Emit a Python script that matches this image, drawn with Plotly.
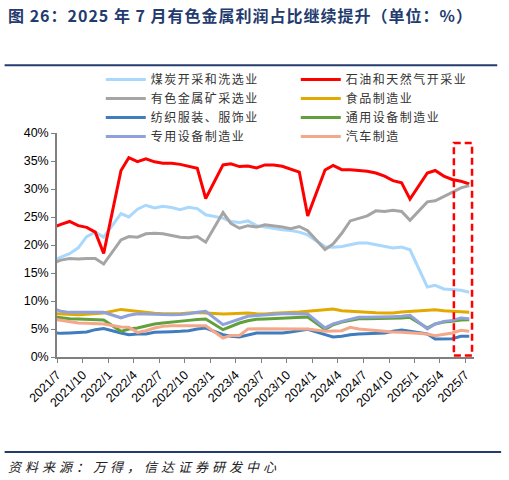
import pandas as pd
import plotly.graph_objects as go

# 月度数据（1月不单独公布，缺失）；首个点 2021/6 落在坐标轴左侧之外
months = [f"{p.year}/{p.month}" for p in pd.period_range("2021-06", "2025-07", freq="M") if p.month != 1]

coal = [17.1, 17.85, 18.45, 19.5, 21.5, 22.3, 21.4,
        25.6, 25.0, 26.4, 27.1, 26.6, 26.9, 26.7, 26.3, 26.75, 26.5, 25.4,
        24.8, 24.2, 24.0, 24.3, 23.45, 23.2, 23.0, 22.7, 22.6, 22.3, 21.8,
        19.7, 19.6, 19.75, 20.05, 20.35, 20.35, 20.05, 19.65, 19.45, 19.65, 19.15,
        12.5, 12.8, 12.15, 12.0, 11.9, 11.55]
oil = [23.05, 23.7, 24.2, 23.45, 23.15, 22.3, 18.5,
       33.3, 35.6, 34.9, 35.4, 34.85, 34.6, 34.6, 34.4, 34.1, 33.7, 28.3,
       34.3, 34.5, 34.0, 34.1, 33.75, 34.3, 34.3, 34.05, 33.6, 33.0, 25.2,
       33.4, 34.2, 33.45, 33.45, 33.3, 33.15, 32.85, 32.3, 31.5, 31.1, 28.2,
       32.85, 33.3, 32.3, 31.7, 31.4, 30.9]
metal = [16.75, 17.3, 17.6, 17.5, 17.6, 17.6, 16.6,
         20.9, 21.5, 21.4, 22.0, 22.1, 22.0, 21.7, 21.4, 21.3, 21.5, 20.5,
         25.8, 23.85, 23.0, 23.45, 23.2, 23.6, 23.45, 23.2, 22.9, 23.3, 22.55,
         19.2, 20.2, 22.1, 24.3, 24.8, 25.2, 26.1, 26.0, 26.2, 26.0, 24.4,
         27.7, 27.9, 28.6, 29.4, 30.2, 30.6]
food = [7.75, 7.65, 7.55, 7.55, 7.65, 7.75, 7.85,
        8.5, 8.33, 8.15, 7.97, 7.8, 7.73, 7.67, 7.73, 7.85, 7.95, 7.85,
        7.67, 7.73, 7.85, 7.85, 7.73, 7.67, 7.8, 7.85, 7.9, 8.03, 8.15,
        8.4, 8.57, 8.27, 8.15, 8.03, 7.97, 7.9, 7.85, 7.85, 8.03, 8.15,
        8.4, 8.45, 8.27, 8.15, 8.03, 7.97]
textile = [4.35, 4.22, 4.28, 4.34, 4.46, 4.88, 5.1,
           4.28, 3.98, 4.1, 4.1, 4.4, 4.52, 4.52, 4.58, 4.7, 5.0, 5.17,
           3.98, 3.69, 3.57, 3.86, 4.28, 4.28, 4.28, 4.28, 4.46, 4.7, 4.93,
           4.0, 3.57, 3.69, 3.98, 4.1, 4.16, 4.16, 4.28, 4.58, 4.82, 4.58,
           4.1, 3.2, 3.2, 3.27, 3.69, 3.69]
general = [7.2, 6.96, 6.84, 6.78, 6.73, 6.73, 6.6,
           4.58, 5.0, 5.18, 5.59, 5.89, 6.07, 6.19, 6.36, 6.54, 6.7, 6.78,
           4.88, 5.47, 6.07, 6.48, 6.72, 6.78, 6.84, 6.9, 6.96, 7.08, 7.14,
           4.93, 5.77, 6.24, 6.54, 6.84, 6.84, 6.84, 6.84, 6.9, 6.96, 7.08,
           5.17, 5.89, 6.24, 6.36, 6.6, 6.66]
special = [8.7, 8.15, 7.97, 8.0, 7.97, 8.0, 8.0,
           7.0, 7.45, 7.73, 7.67, 7.55, 7.55, 7.55, 7.6, 7.73, 8.0, 8.15,
           5.77, 6.24, 6.78, 7.26, 7.43, 7.55, 7.67, 7.73, 7.73, 7.73, 7.67,
           5.2, 5.89, 6.36, 6.78, 7.08, 7.08, 7.08, 7.14, 7.2, 7.26, 7.43,
           5.0, 5.89, 6.36, 6.54, 6.96, 6.84]
auto = [6.8, 6.54, 6.24, 6.07, 6.01, 6.01, 5.89,
        5.35, 5.3, 4.4, 4.7, 5.18, 5.47, 5.59, 5.59, 5.65, 5.7, 5.59,
        3.39, 3.86, 3.86, 5.0, 5.05, 5.05, 5.05, 5.11, 5.05, 5.05, 5.0,
        4.6, 4.7, 4.7, 5.3, 5.0, 4.88, 4.7, 4.58, 4.46, 4.4, 4.28,
        4.1, 3.8, 3.98, 4.28, 4.76, 4.58]

names = ["煤炭开采和洗选业", "石油和天然气开采业", "有色金属矿采选业", "食品制造业",
         "纺织服装、服饰业", "通用设备制造业", "专用设备制造业", "汽车制造"]
series = [coal, oil, metal, food, textile, general, special, auto]
colors = ["#A9D8FC", "#FF0000", "#A5A5A5", "#E2AA00",
          "#3F7DBF", "#62A03C", "#8EA1DA", "#F3A88A"]

# 数据点放在月中
x = pd.to_datetime(months, format="%Y/%m") + pd.Timedelta(days=14)
tick_dates = pd.date_range("2021-07-01", "2025-07-01", freq="3MS")
tick_text = [f"{d.year}/{d.month}" for d in tick_dates]

fig = go.Figure()
for name, vals, col in zip(names, series, colors):
    fig.add_trace(go.Scatter(x=x, y=vals, mode="lines",
                             name=f'<span style="letter-spacing:1.5px">{name}</span>',
                             line=dict(color=col, width=3)))

nav = "#233B6E"
fig.update_layout(
    width=509, height=480,
    margin=dict(l=57, r=35, t=133, b=123, autoexpand=False),
    plot_bgcolor="white", paper_bgcolor="white",
    font=dict(family="Arial, Liberation Sans", size=12, color="#000000"),
    legend=dict(orientation="h", x=0.105, y=1.304, xanchor="left", yanchor="top",
                entrywidth=140, entrywidthmode="pixels", itemwidth=40,
                font=dict(family="Noto Sans CJK SC", size=12, color="#333333"),
                bgcolor="rgba(0,0,0,0)", tracegroupgap=0),
    xaxis=dict(type="date", range=["2021-07-01", "2025-08-01"],
               tickvals=tick_dates, ticktext=tick_text, tickangle=-45,
               ticks="outside", ticklen=4, tickcolor="#808080",
               showline=True, linecolor="#808080", linewidth=1.5,
               showgrid=False, zeroline=False,
               tickfont=dict(size=12.5, color="#000000")),
    yaxis=dict(range=[0, 40], dtick=5, ticksuffix="%",
               ticks="outside", ticklen=4, tickcolor="#808080",
               showline=True, linecolor="#808080", linewidth=1.5,
               showgrid=False, zeroline=False,
               tickfont=dict(size=12.5, color="#000000")),
)

# 重点标注框
fig.add_shape(type="rect", xref="x", yref="y",
              x0="2025-05-21", x1="2025-07-25", y0=0.25, y1=38.2,
              line=dict(color="#FF0000", width=2.5, dash="7px,4px"))

# 标题与分隔线
fig.add_shape(type="line", xref="paper", yref="paper",
              x0=-0.1256, x1=1.0557, y0=1.302, y1=1.302,
              line=dict(color=nav, width=2))
fig.add_shape(type="line", xref="paper", yref="paper",
              x0=-0.1256, x1=1.065, y0=-0.424, y1=-0.424,
              line=dict(color=nav, width=2))
fig.add_annotation(xref="paper", yref="paper", x=-0.122, y=1.528,
                   xanchor="left", yanchor="middle", showarrow=False,
                   text='<b><span style="letter-spacing:1px">图 26：2025 年 7 月有色金属利润占比继续提升（单位：%）</span></b>',
                   font=dict(family="Noto Sans CJK SC", size=16, color=nav))
fig.add_annotation(xref="paper", yref="paper", x=-0.122, y=-0.487,
                   xanchor="left", yanchor="middle", showarrow=False,
                   text='<i><span style="letter-spacing:4px">资料来源：万得，信达证券研发中心</span></i>',
                   font=dict(family="Noto Sans CJK SC", size=13, color="#222222"))

# 页面默认 body 边距会把图挤出窗口
fig.write_html("out.html", config={"displayModeBar": False},
               post_script="document.body.style.margin='0';")
